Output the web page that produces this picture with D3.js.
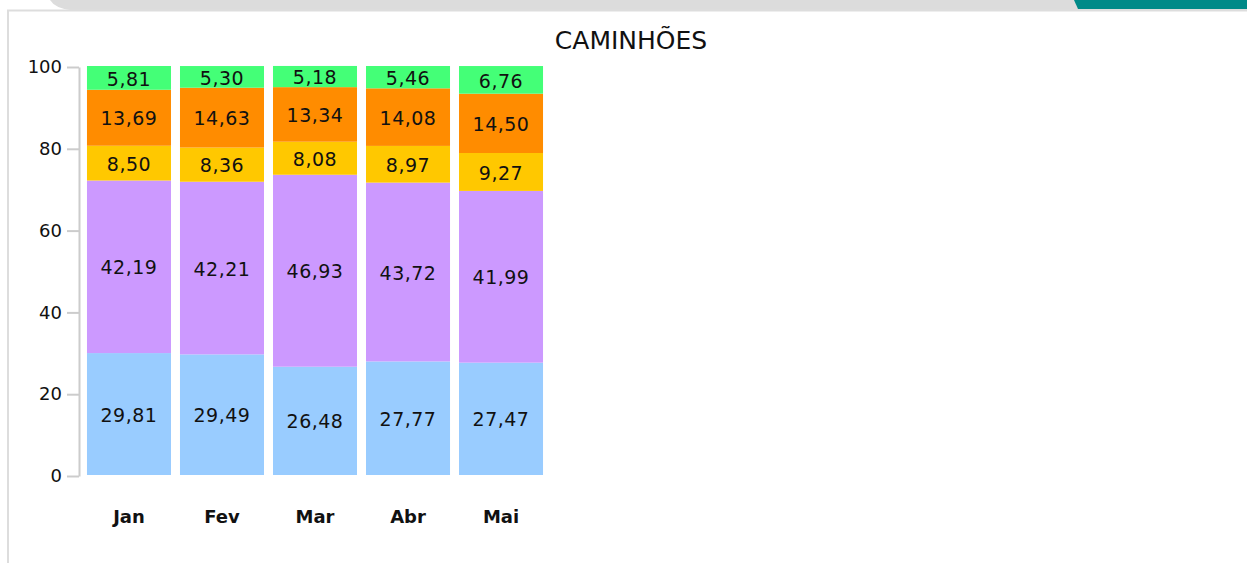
<!DOCTYPE html>
<meta charset="utf-8">
<head>
  <title>CAMINHÕES</title>
</head>
<style>
body { margin: 0; background: #fff; }
text { font-family: "DejaVu Sans", Verdana, sans-serif; }
</style>
<body>
<svg width="1247" height="563"></svg>
<script src="https://cdnjs.cloudflare.com/ajax/libs/d3/7.8.5/d3.min.js"></script>
<script>
var months = ["Jan", "Fev", "Mar", "Abr", "Mai"];
var seriesNames = ["s1", "s2", "s3", "s4", "s5"]; // bottom to top
var s1 = [29.81, 29.49, 26.48, 27.77, 27.47];
var s2 = [42.19, 42.21, 46.93, 43.72, 41.99];
var s3 = [8.50, 8.36, 8.08, 8.97, 9.27];
var s4 = [13.69, 14.63, 13.34, 14.08, 14.50];
var s5 = [5.81, 5.30, 5.18, 5.46, 6.76];
var colors = ["#99ccff", "#cc99ff", "#ffc800", "#ff8c00", "#44ff77"];
var yTicks = [0, 20, 40, 60, 80, 100];

var svg = d3.select("svg");

// page decoration: grey band, teal tab, panel border
svg.append("path")
  .attr("d", "M50,0 H1247 V10 H70 Q55,8 50,0 Z")
  .attr("fill", "#dcdcdc");
svg.append("path")
  .attr("d", "M1074,0 H1247 V9 H1078 Z")
  .attr("fill", "#008a88");
svg.append("path")
  .attr("d", "M8,563 V10.5 H1247")
  .attr("fill", "none")
  .attr("stroke", "#dddddd")
  .attr("stroke-width", 2);

var table = months.map(function(m, i) {
  return { month: m, s1: s1[i], s2: s2[i], s3: s3[i], s4: s4[i], s5: s5[i] };
});
var stacked = d3.stack().keys(seriesNames)(table);

var x = d3.scaleBand()
  .domain(months)
  .range([80, 550])
  .paddingInner(9 / 93)
  .paddingOuter(0.075);

var y = d3.scaleLinear()
  .domain([0, 100])
  .range([475, 66]);

var layers = svg.append("g")
  .selectAll("g")
  .data(stacked)
  .enter()
  .append("g")
  .attr("fill", function(d, i) { return colors[i]; });

layers.selectAll("rect")
  .data(function(d) { return d; })
  .enter()
  .append("rect")
  .attr("x", function(d) { return x(d.data.month); })
  .attr("y", function(d) { return y(d[1]); })
  .attr("width", x.bandwidth())
  .attr("height", function(d) { return y(d[0]) - y(d[1]); });

layers.selectAll("text")
  .data(function(d) { return d; })
  .enter()
  .append("text")
  .attr("x", function(d) { return x(d.data.month) + x.bandwidth() / 2; })
  .attr("y", function(d) { return (y(d[0]) + y(d[1])) / 2 + 1; })
  .attr("dy", "0.35em")
  .attr("text-anchor", "middle")
  .attr("font-size", "19px")
  .attr("letter-spacing", "0.5px")
  .attr("fill", "#111")
  .text(function(d) { return d3.format(".2f")(d[1] - d[0]).replace(".", ","); });

// y axis
var yAxis = svg.append("g")
  .attr("transform", "translate(79,1)")
  .call(d3.axisLeft(y).tickValues(yTicks).tickSize(12).tickSizeOuter(0).tickPadding(5));
yAxis.select(".domain").attr("stroke", "#cccccc").attr("stroke-width", 2);
yAxis.selectAll(".tick line").attr("stroke", "#cccccc").attr("stroke-width", 2);
yAxis.selectAll(".tick text")
  .attr("font-size", "18px")
  .attr("fill", "#111")
  .attr("font-family", "DejaVu Sans, sans-serif");

// x labels
svg.append("g")
  .selectAll("text")
  .data(months)
  .enter()
  .append("text")
  .attr("x", function(d) { return x(d) + x.bandwidth() / 2; })
  .attr("y", 523)
  .attr("text-anchor", "middle")
  .attr("font-size", "18px")
  .attr("font-weight", "bold")
  .attr("fill", "#111")
  .text(function(d) { return d; });

svg.append("text")
  .attr("x", 631)
  .attr("y", 49)
  .attr("text-anchor", "middle")
  .attr("font-size", "25px")
  .attr("fill", "#111")
  .text("CAMINHÕES");
</script>
</body>
